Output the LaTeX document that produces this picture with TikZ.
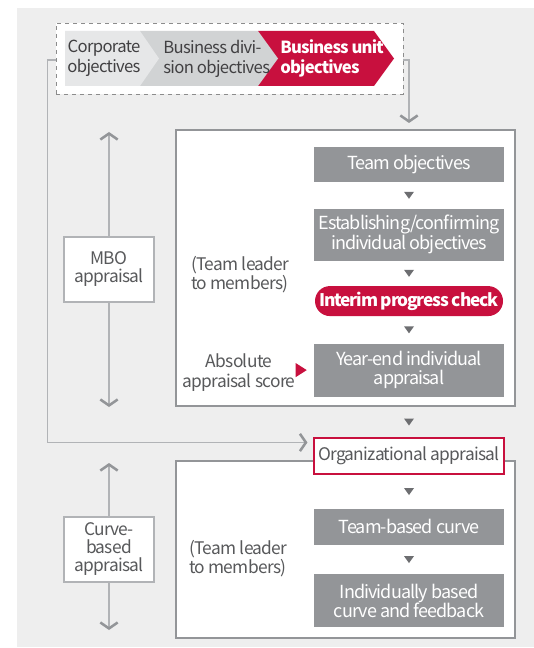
\documentclass[tikz,border=0pt]{standalone}
\usepackage{fontspec}
\setmainfont{Noto Sans CJK KR}[LetterSpace=-4]
\usetikzlibrary{arrows.meta,positioning,calc}
\definecolor{crim}{RGB}{200,16,62}
\definecolor{bggray}{RGB}{238,238,238}
\definecolor{boxgray}{RGB}{147,149,152}
\definecolor{txtgray}{RGB}{88,89,91}
\definecolor{darktxt}{RGB}{65,64,66}
\definecolor{linegray}{RGB}{177,179,182}
\definecolor{chevlight}{RGB}{230,231,232}
\definecolor{chevmid}{RGB}{209,211,212}
\definecolor{trigray}{RGB}{109,110,113}

\begin{document}
\begin{tikzpicture}[x=0.75pt,y=-0.75pt,node distance=19.5pt,
font=\fontsize{13}{15}\selectfont,text=txtgray,
graybox/.style={fill=boxgray,text=white,align=center,inner sep=0pt,minimum width=142.5pt,font=\fontsize{13.5}{14.5}\selectfont\addfontfeatures{LetterSpace=-5}},
frame/.style={draw=boxgray,line width=0.9pt,fill=white,inner sep=0pt},
labbox/.style={draw=linegray,line width=1.6pt,fill=white,align=center,inner sep=0pt,minimum width=67.5pt,minimum height=48.75pt,font=\fontsize{13}{13.5}\selectfont},
chevtext/.style={align=left,inner sep=0pt,text=darktxt,font=\fontsize{12.5}{15}\selectfont},
note/.style={align=left,inner sep=0pt,font=\fontsize{13}{13}\selectfont},
boldtext/.style={font=\fontsize{13}{15}\selectfont\bfseries\addfontfeatures{LetterSpace=-7}},
link/.style={draw=linegray,line width=1.1pt},
>={Straight Barb[length=4.5pt,width=13pt,line width=1.9pt,color=boxgray]},
tri/.style={fill=trigray}]
\useasboundingbox (0,0) rectangle (534,648);
\fill[bggray] (17,8) rectangle (534,647);

% objectives cascade
\node[draw=black!45,dashed,line width=0.7pt,fill=white,inner sep=0pt,minimum width=260.25pt,minimum height=53.25pt] (top) at (229.5,58.5) {};
\fill[crim] (258,31) -- (374,31) -- (394,58.5) -- (374,86) -- (258,86) -- cycle;
\fill[chevmid] (140,31) -- (258,31) -- (278,58.5) -- (258,86) -- (140,86) -- cycle;
\fill[chevlight] (65,31) -- (140,31) -- (159,58.5) -- (140,86) -- (65,86) -- cycle;
\node[chevtext,align=center] (corp) at (104,58.5) {Corporate\\objectives};
\node[chevtext,anchor=west] (bdiv) at (163,58.5) {Business divi-\\sion objectives};
\node[chevtext,anchor=west,text=white,font=\fontsize{12.5}{15}\selectfont\bfseries\addfontfeatures{LetterSpace=-5}] (bunit) at (280,58.5) {Business unit\\objectives};

% MBO part
\node[frame,minimum width=254.25pt,minimum height=207pt] (mboframe) at (345.5,268) {};
\node[graybox,minimum height=26.25pt] (tobj) at (409,164.5) {Team objectives};
\node[graybox,minimum height=39pt,below=of tobj] (estab) {Establishing/confirming\\individual objectives};
\node[graybox,boldtext,fill=crim,minimum width=141pt,minimum height=22.5pt,rounded corners=11.25pt,below=18.75pt of estab] (interim) {Interim progress check};
\node[graybox,minimum height=39.75pt,below=20.25pt of interim] (yend) {Year-end individual\\appraisal};
\node[note,anchor=west] (lead1) at (191,275) {(Team leader\\to members)};
\node[note,align=center,font=\fontsize{13}{15}\selectfont] (abs) at (239,373) {Absolute\\appraisal score};
\coordinate (abstip) at ([xshift=-5.25pt]yend.west);
\fill[crim] (abstip) +(-11,-7) -- (abstip) -- +(-11,7) -- cycle;
\node[labbox] (mbo) at (109,269.5) {MBO\\appraisal};
\coordinate (mbotop) at (109,132);
\coordinate (mbobot) at (109,407);
\draw[link,->] (mbo) -- (mbotop);
\draw[link,->] (mbo) -- (mbobot);

% curve part
\node[frame,minimum width=254.25pt,minimum height=132.75pt] (curveframe) at (345.5,549.5) {};
\node[draw=crim,line width=0.8pt,fill=white,inner sep=0pt,minimum width=142.5pt,minimum height=27pt] (org) at (409,456) {Organizational appraisal};
\node[graybox,minimum height=27pt,below=25.5pt of org] (tcurve) {Team-based curve};
\node[graybox,minimum height=39.75pt,below=21.75pt of tcurve] (indiv) {Individually based\\curve and feedback};
\node[note,anchor=west] (lead2) at (189,559) {(Team leader\\to members)};
\node[labbox] (curve) at (109,549.5) {Curve-\\based\\appraisal};
\coordinate (curvetop) at (109,463);
\coordinate (curvebot) at (109,630);
\draw[link,->] (curve) -- (curvetop);
\draw[link,->] (curve) -- (curvebot);

% connectors
\coordinate (toparr) at (409,123);
\draw[link,->] ([yshift=-1.1pt]top.east) -| (toparr);
\coordinate (orgin) at ([xshift=-4.5pt,yshift=-3.75pt]org.north west);
\draw[link,->] ([yshift=-1.1pt]top.west) -- ++(-8,0) |- (orgin);
\foreach \a/\b in {tobj/estab,estab/interim,interim/yend,org/tcurve,tcurve/indiv}
  \fill[tri] ($(\a.south)!.5!(\b.north)$) +(-5,-3.5) -- +(5,-3.5) -- +(0,3.5) -- cycle;
\fill[tri] ($(mboframe.south -| org.north)!.5!(org.north)$) +(-5,-3.5) -- +(5,-3.5) -- +(0,3.5) -- cycle;
\end{tikzpicture}
\end{document}
